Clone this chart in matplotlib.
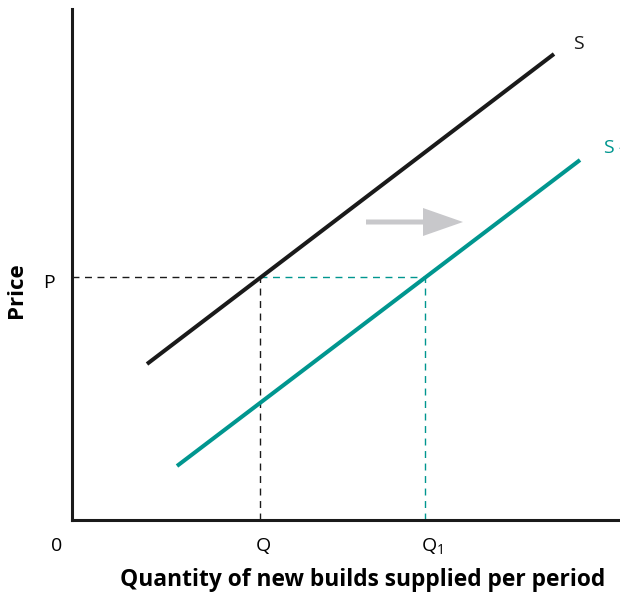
import matplotlib
matplotlib.use("Agg")
import matplotlib.pyplot as plt

plt.rcParams['font.family'] = ['Open Sans', 'DejaVu Sans']
plt.rcParams['mathtext.default'] = 'regular'

# supply curves, endpoints in chart units (origin at 0,0)
s_x = [1.5, 9.64]
s_y = [3.12, 9.32]
s1_x = [2.1, 10.16]
s1_y = [1.08, 7.2]

# equilibrium price and quantities
p_level = 4.86
q_old = 3.76
q_new = 7.06

# shift arrow (start, end) at a fixed height
arrow_x = [5.88, 7.82]
arrow_y = 5.96

black = '#1a1a1a'
teal = '#00968f'

fig = plt.figure(figsize=(6.2, 5.92), dpi=100)
ax = fig.add_axes([72/620, 72/592, 548/620, 511/592])
ax.set_xlim(0, 10.96)
ax.set_ylim(0, 10.22)

for side in ['top', 'right']:
    ax.spines[side].set_visible(False)
for side in ['left', 'bottom']:
    ax.spines[side].set_linewidth(2.2)
    ax.spines[side].set_color(black)
ax.set_xticks([])
ax.set_yticks([])

# dashed guide lines
ax.plot([0, q_old], [p_level, p_level], color=black, lw=1, ls=(0, (5, 4)))
ax.plot([q_old, q_new], [p_level, p_level], color=teal, lw=1, ls=(0, (5, 4)))
ax.plot([q_old, q_old], [0, p_level], color=black, lw=1, ls=(0, (5, 4)))
ax.plot([q_new, q_new], [0, p_level], color=teal, lw=1, ls=(0, (5, 4)))

# supply curves
ax.plot(s_x, s_y, color=black, lw=2.9, solid_capstyle='butt')
ax.plot(s1_x, s1_y, color=teal, lw=2.9, solid_capstyle='butt')

# arrow showing the shift
ax.arrow(arrow_x[0], arrow_y, arrow_x[1] - arrow_x[0], 0, width=0.1,
         head_width=0.56, head_length=0.8, length_includes_head=True,
         color='#c8c8cb', lw=0)

# curve labels
ax.text(s_x[1] + 0.48, s_y[1] + 0.2, 'S', fontsize=14, color=black,
        ha='center', va='center', clip_on=False)
ax.text(s1_x[1] + 0.46, s1_y[1] + 0.24, r'S$\,_1$', fontsize=14, color=teal,
        ha='left', va='center', clip_on=False)

# axis labels
ax.text(-0.46, 4.64, 'P', fontsize=14, ha='center', va='baseline', clip_on=False)
ax.text(-0.3, -0.62, '0', fontsize=14, ha='center', va='baseline', clip_on=False)
ax.text(q_old + 0.06, -0.62, 'Q', fontsize=14, ha='center', va='baseline',
        clip_on=False)
ax.text(q_new - 0.08, -0.62, r'Q$_1$', fontsize=14, ha='left', va='baseline',
        clip_on=False)

ax.text(5.82, -1.32, 'Quantity of new builds supplied per period', fontsize=16.4,
        fontweight='bold', ha='center', va='baseline', clip_on=False)
ax.text(-1.11, 4.6, 'Price', fontsize=16, fontweight='bold', rotation=90,
        ha='center', va='center', clip_on=False)

fig.savefig('out.png', dpi=100)
